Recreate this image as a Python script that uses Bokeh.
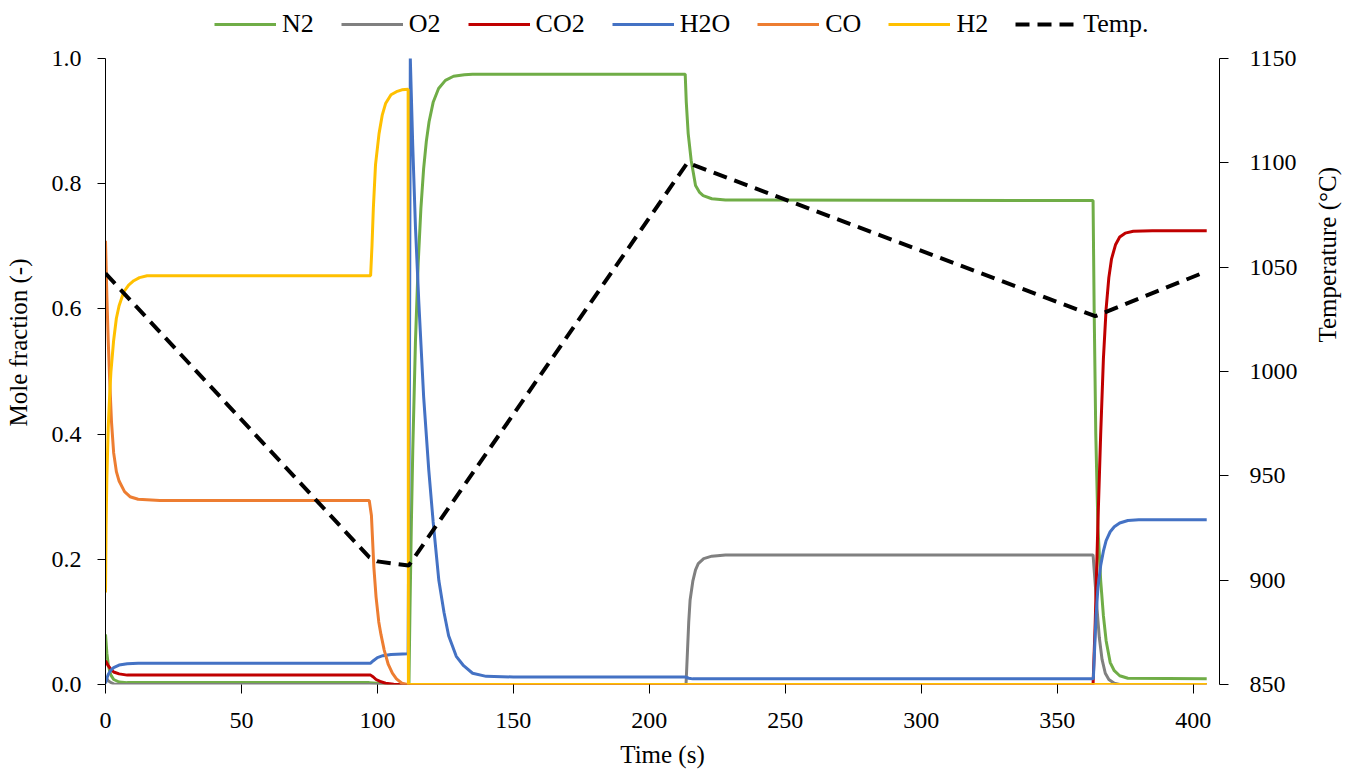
import math
from bokeh.plotting import figure
from bokeh.models import (Range1d, LinearAxis, FixedTicker, Legend, LegendItem,
                          PrintfTickFormatter)
from bokeh.embed import file_html
from bokeh.resources import INLINE

# ---------------- data ----------------
t_n2 = [0, 0.5, 1, 1.5, 2, 3, 5, 8, 97, 100, 104, 111.6, 112, 112.5, 113, 114, 115, 116, 117,
        118, 119, 120.5, 122.5, 125, 128, 132, 135, 213.2, 213.6, 214.3, 215.4, 217, 218.5,
        219.8, 223, 228, 363.2, 363.6, 364.2, 365, 366, 367, 368, 369.5, 371, 373, 376, 405]
y_n2 = [0.08, 0.05, 0.032, 0.022, 0.015, 0.008, 0.004, 0.003, 0.003, 0.002, 0.0, 0.0, 0.126,
        0.26, 0.373, 0.549, 0.673, 0.761, 0.824, 0.868, 0.899, 0.93, 0.952, 0.965, 0.9716,
        0.974, 0.975, 0.975, 0.93, 0.88, 0.837, 0.797, 0.786, 0.781, 0.776, 0.774, 0.773,
        0.6, 0.4, 0.25, 0.166, 0.11, 0.07, 0.035, 0.022, 0.014, 0.01, 0.009]

t_o2 = [0, 1, 2, 3, 5, 213.5, 214, 214.5, 215, 216, 217, 218, 220, 223, 228, 363.2, 364,
        364.8, 365.5, 366.5, 367.7, 369, 371, 373, 405]
y_o2 = [0.012, 0.006, 0.003, 0.001, 0, 0, 0.05, 0.1, 0.135, 0.165, 0.183, 0.193, 0.201,
        0.205, 0.207, 0.207, 0.16, 0.113, 0.075, 0.04, 0.018, 0.008, 0.002, 0, 0]

t_co2 = [0, 1, 2, 3, 5, 8, 97.5, 98.5, 99.5, 101, 103, 106, 110, 363.2, 364, 364.4, 365, 366,
         367, 368, 369, 370, 371.5, 373, 375, 378, 385, 405]
y_co2 = [0.038, 0.03, 0.024, 0.02, 0.017, 0.015, 0.015, 0.012, 0.008, 0.005, 0.002, 0.0005,
         0, 0, 0.1, 0.166, 0.26, 0.4, 0.52, 0.6, 0.65, 0.68, 0.703, 0.715, 0.721, 0.724,
         0.725, 0.725]

t_h2o = [0, 0.5, 1, 2, 3, 5, 8, 12, 97.5, 98.5, 100, 102, 105, 111.3, 111.8, 112.1, 113, 114,
         115.2, 117, 118.9, 120.5, 122.6, 124.5, 126.2, 129, 131.7, 135, 140, 150, 213.3,
         214.5, 216, 363.3, 363.8, 364.3, 365, 366, 367, 368, 369.5, 371, 373, 376, 380, 405]
y_h2o = [0.002, 0.01, 0.016, 0.023, 0.027, 0.031, 0.033, 0.034, 0.034, 0.038, 0.043, 0.046,
         0.048, 0.049, 0.5, 1.0, 0.86, 0.73, 0.613, 0.46, 0.342, 0.26, 0.166, 0.115, 0.078,
         0.045, 0.03, 0.018, 0.013, 0.012, 0.012, 0.01, 0.009, 0.009, 0.06, 0.11, 0.155,
         0.19, 0.213, 0.23, 0.244, 0.252, 0.258, 0.262, 0.263, 0.263]

t_co = [0, 0.5, 1, 1.5, 2.2, 3, 4, 5, 7, 9, 12, 20, 97, 97.8, 98.7, 99.5, 100.5, 101.3, 102.5,
        104, 105.5, 107, 109, 111, 405]
y_co = [0.709, 0.62, 0.55, 0.49, 0.42, 0.37, 0.34, 0.325, 0.308, 0.3, 0.296, 0.294, 0.294,
        0.27, 0.187, 0.14, 0.1, 0.08, 0.055, 0.032, 0.018, 0.009, 0.002, 0, 0]

t_h2 = [0, 0.2, 0.5, 1, 1.5, 2, 3, 4, 5, 6.7, 8.5, 10.4, 12.5, 15.3, 97.5, 98, 98.5, 99.3,
        100.6, 101.8, 103, 105, 107, 109, 111.3, 111.4, 405]
y_h2 = [0.147, 0.25, 0.33, 0.41, 0.46, 0.5, 0.55, 0.585, 0.605, 0.627, 0.638, 0.645, 0.65,
        0.653, 0.653, 0.7, 0.76, 0.83, 0.88, 0.91, 0.928, 0.942, 0.947, 0.95, 0.951, 0, 0]

t_temp = [0, 97, 100, 111.5, 214, 364, 405]
y_temp = [1047, 911, 909, 907, 1100, 1026.5, 1048]

series_names = ["N2", "O2", "CO2", "H2O", "CO", "H2"]
series_colors = ["#70AD47", "#808080", "#C00000", "#4472C4", "#ED7D31", "#FFC000"]
series_t = [t_n2, t_o2, t_co2, t_h2o, t_co, t_h2]
series_y = [y_n2, y_o2, y_co2, y_h2o, y_co, y_h2]

x_ticks = [0, 50, 100, 150, 200, 250, 300, 350, 400]
y_ticks = [0.0, 0.2, 0.4, 0.6, 0.8, 1.0]
t_ticks = [850, 900, 950, 1000, 1050, 1100, 1150]

FONT = "Liberation Serif"

# frame reaches the top of the canvas so that the legend (drawn inside the frame) is
# visible above the data area; the axes are bounded to the data ranges.
W, H = 1357, 773
TOP_PAD = 58          # px from canvas top to y = 1.0
FRAME_H = 684         # px from canvas top to y = 0.0
y_top = 1.0 + TOP_PAD / (FRAME_H - TOP_PAD)
t_top = 1150 + TOP_PAD * 300 / (FRAME_H - TOP_PAD)

p = figure(width=W, height=H, output_backend="svg", toolbar_location=None,
           x_range=Range1d(0, 409.7), y_range=Range1d(0, y_top),
           min_border_left=105, min_border_right=135, min_border_top=0,
           min_border_bottom=H - FRAME_H)
p.extra_y_ranges = {"temp": Range1d(850, t_top)}
p.xgrid.visible = False
p.ygrid.visible = False
p.outline_line_color = None
p.background_fill_color = "white"

renderers = []
for name, col, tt, yy in zip(series_names, series_colors, series_t, series_y):
    r = p.line(tt, yy, line_color=col, line_width=3)
    renderers.append(r)
r_temp = p.line(t_temp, y_temp, y_range_name="temp", line_color="black",
                line_width=4, line_dash="14 8")
renderers.append(r_temp)

right = LinearAxis(y_range_name="temp")
p.add_layout(right, "right")

xa = p.xaxis[0]
xa.ticker = FixedTicker(ticks=x_ticks)
xa.axis_line_color = None
xa.major_tick_out = 9
xa.major_tick_in = 0
xa.minor_tick_out = 0
xa.minor_tick_in = 0
xa.major_label_standoff = 19
xa.axis_label = "Time (s)"
xa.axis_label_standoff = 10

ya = p.yaxis[0]
ya.ticker = FixedTicker(ticks=y_ticks)
ya.bounds = (0, 1)
ya.formatter = PrintfTickFormatter(format="%.1f")
ya.major_tick_out = 8
ya.major_tick_in = 0
ya.minor_tick_out = 0
ya.minor_tick_in = 0
ya.major_label_standoff = 16
ya.axis_label = "Mole fraction (-)"
ya.axis_label_standoff = 17

right.ticker = FixedTicker(ticks=t_ticks)
right.bounds = (850, 1150)
right.major_tick_out = 9
right.major_tick_in = 0
right.minor_tick_out = 0
right.minor_tick_in = 0
right.major_label_standoff = 21
right.axis_label = "Temperature (°C)"
right.axis_label_standoff = 27
if "axis_label_orientation" in LinearAxis.properties():
    right.axis_label_orientation = math.pi / 2

for ax in (xa, ya, right):
    ax.axis_line_width = 1
    ax.major_tick_line_color = "black"
    ax.major_label_text_font = FONT
    ax.major_label_text_font_size = "24px"
    ax.major_label_text_color = "black"
    ax.axis_label_text_font = FONT
    ax.axis_label_text_font_size = "25px"
    ax.axis_label_text_font_style = "normal"
    ax.axis_label_text_color = "black"
ya.axis_line_color = "black"
right.axis_line_color = "black"

items = [LegendItem(label=n, renderers=[r]) for n, r in zip(series_names + ["Temp."], renderers)]
legend = Legend(items=items, orientation="horizontal", location=(109, FRAME_H - 39),
                glyph_width=62, glyph_height=20, label_standoff=6, spacing=27,
                padding=0, margin=0, border_line_color=None, background_fill_alpha=0,
                label_text_font=FONT, label_text_font_size="26px", label_text_color="black")
p.add_layout(legend)

open("out.html", "w").write(file_html(p, INLINE))
